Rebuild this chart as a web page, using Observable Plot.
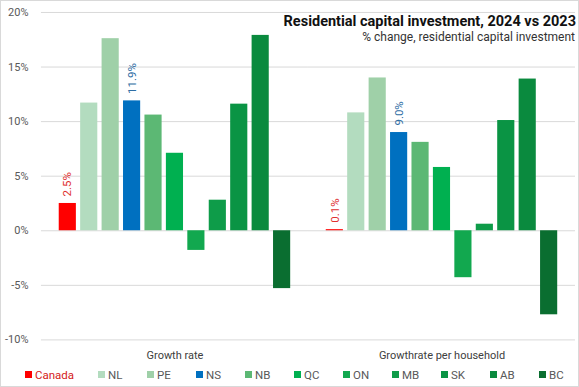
<!DOCTYPE html>
<html>
<head>
<meta charset="utf-8">
<script src="https://cdn.jsdelivr.net/npm/d3@7"></script>
<script src="https://cdn.jsdelivr.net/npm/@observablehq/plot@0.6"></script>
<style>
  html, body { margin: 0; padding: 0; background: #fff; }
  #chart { position: relative; width: 579px; height: 387px; box-sizing: border-box; border: 1px solid #d9d9d9; overflow: hidden; font-family: Roboto, sans-serif; }
  #plot { position: absolute; left: -1px; top: -1px; }
  #title { position: absolute; right: 2px; top: 12px; font: bold 14.5px Roboto, sans-serif; color: #111; white-space: nowrap; }
  #subtitle { position: absolute; right: 3px; top: 29px; font: 12px Roboto, sans-serif; color: #333; white-space: nowrap; }
  #legend { position: absolute; left: 24px; top: 367px; font: 11.5px Roboto, sans-serif; color: #595959; white-space: nowrap; }
  .item { display: inline-block; width: 49px; }
  .sw { display: inline-block; width: 7px; height: 7px; margin-right: 3px; vertical-align: 1px; }
</style>
</head>
<body>
<div id="chart">
  <div id="plot"></div>
  <div id="title"></div>
  <div id="subtitle"></div>
  <div id="legend"></div>
</div>
<script>
const titleText = "Residential capital investment, 2024 vs 2023";
const subtitleText = "% change, residential capital investment";
const groups = ["Growth rate", "Growthrate per household"];
const regions = ["Canada", "NL", "PE", "NS", "NB", "QC", "ON", "MB", "SK", "AB", "BC"];
const growthRate = [2.5, 11.7, 17.6, 11.9, 10.6, 7.1, -1.8, 2.8, 11.6, 17.9, -5.3];
const growthPerHousehold = [0.1, 10.8, 14.0, 9.0, 8.1, 5.8, -4.3, 0.6, 10.1, 13.9, -7.7];
const regionColors = ["#ff0000", "#b3dcbf", "#9fd0a8", "#0070c0", "#5cb874", "#00b050", "#12a84f", "#0e9c49", "#0a9444", "#0a8a3e", "#0a6e30"];
const labelledRegions = ["Canada", "NS"];
const labelColors = {"Canada": "#e03030", "NS": "#2e6da4"};
const yTicks = [-10, -5, 0, 5, 10, 15, 20];

const seriesValues = [growthRate, growthPerHousehold];
const data = [];
groups.forEach((g, gi) => regions.forEach((r, ri) => data.push({group: g, region: r, value: seriesValues[gi][ri]})));
const labelled = data.filter(d => labelledRegions.includes(d.region));

const plot = Plot.plot({
  width: 579,
  height: 363,
  marginLeft: 41,
  marginRight: 3,
  marginTop: 12,
  marginBottom: 23,
  style: {fontFamily: "Roboto, sans-serif", fontSize: "11px", color: "#595959", background: "transparent"},
  fx: {domain: groups, padding: 0, round: false, label: null, tickSize: 0, tickPadding: 11, axis: "bottom"},
  x: {domain: regions, paddingInner: 0.2, paddingOuter: 0.83, round: false, axis: null},
  y: {domain: [-10, 20], ticks: yTicks, tickFormat: d => d + "%", tickSize: 0, tickPadding: 13, label: null},
  color: {domain: regions, range: regionColors},
  marks: [
    Plot.ruleY(yTicks, {stroke: "#d9d9d9", strokeWidth: 1}),
    Plot.barY(data, {fx: "group", x: "region", y: "value", fill: "region"}),
    Plot.text(labelled, {fx: "group", x: "region", y: "value", text: d => d.value.toFixed(1) + "%", rotate: -90, textAnchor: "start", dy: -7, fill: d => labelColors[d.region], fontSize: 11.5})
  ]
});
document.getElementById("plot").appendChild(plot);
plot.querySelectorAll("g[aria-label='fx-axis'] text, g[aria-label='fx-axis tick label'] text").forEach(t => t.setAttribute("fill", "#404040"));

document.getElementById("title").textContent = titleText;
document.getElementById("subtitle").textContent = subtitleText;
const legend = document.getElementById("legend");
regions.forEach((r, i) => {
  const item = document.createElement("span");
  item.className = "item";
  if (i === 0) { item.style.width = "73px"; item.style.color = "#d42020"; }
  const sw = document.createElement("span");
  sw.className = "sw";
  sw.style.background = regionColors[i];
  item.appendChild(sw);
  item.appendChild(document.createTextNode(r));
  legend.appendChild(item);
});
</script>
</body>
</html>
